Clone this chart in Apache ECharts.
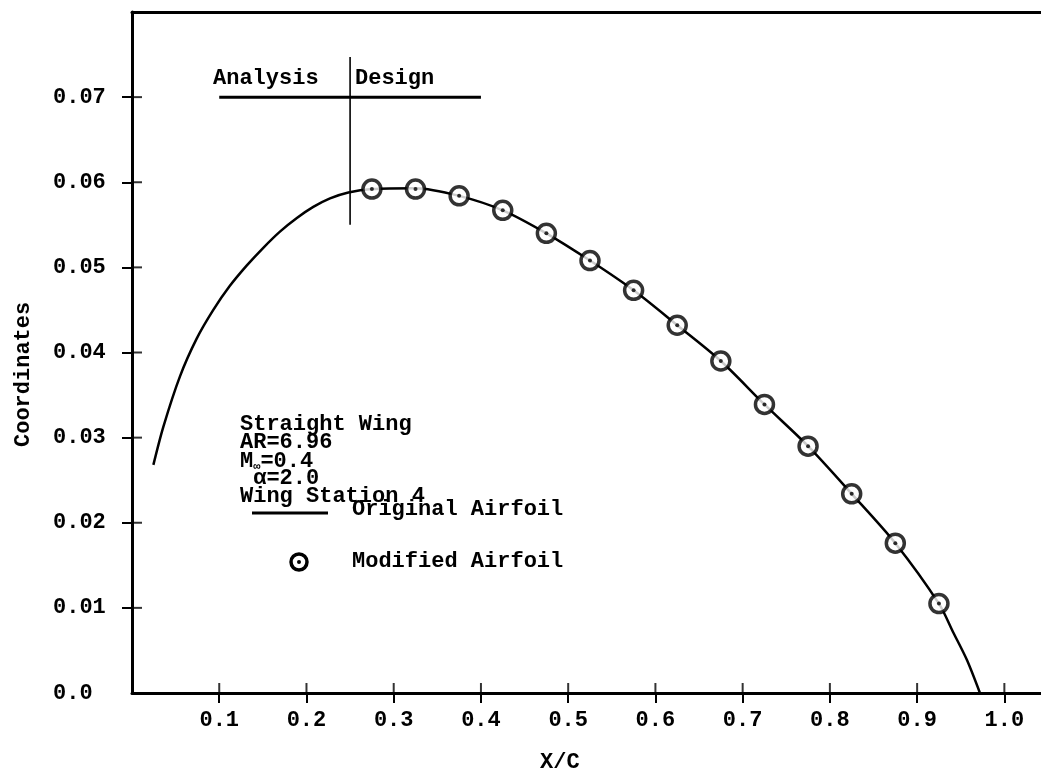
<!DOCTYPE html>
<html>
<head>
<meta charset="utf-8">
<script src="https://cdn.jsdelivr.net/npm/echarts@6/dist/echarts.min.js"></script>
<style>html,body{margin:0;padding:0;background:#fff}#c{width:1041px;height:779px}</style>
</head>
<body>
<div id="c"></div>
<script>
// Original airfoil curve (x/c, coordinate)
const curveX = [0.0245,0.036,0.055,0.074,0.0932,0.112,0.1314,0.1505,0.1696,0.189,0.2078,0.227,0.248,0.275,0.325,0.375,0.425,0.475,0.525,0.575,0.625,0.675,0.725,0.775,0.825,0.875,0.925,0.941,0.957,0.972];
const curveY = [0.0268,0.0313,0.0372,0.0416,0.0450,0.0478,0.0502,0.0523,0.0542,0.0558,0.0571,0.0581,0.0588,0.0592,0.0593,0.0584,0.0567,0.0540,0.0508,0.0473,0.0432,0.0390,0.0339,0.0290,0.0234,0.0176,0.0105,0.0072,0.0039,0.0];
// Modified airfoil points
const modX = [0.275,0.325,0.375,0.425,0.475,0.525,0.575,0.625,0.675,0.725,0.775,0.825,0.875,0.925];
const modY = [0.0592,0.0592,0.0584,0.0567,0.0540,0.0508,0.0473,0.0432,0.0390,0.0339,0.0290,0.0234,0.0176,0.0105];
// Ticks
const xTicks = [0.1,0.2,0.3,0.4,0.5,0.6,0.7,0.8,0.9,1.0];
const xTickLabels = ['0.1','0.2','0.3','0.4','0.5','0.6','0.7','0.8','0.9','1.0'];
const yTicks = [0,0.01,0.02,0.03,0.04,0.05,0.06,0.07];
const yTickLabels = ['0.0','0.01','0.02','0.03','0.04','0.05','0.06','0.07'];
// Analysis/Design annotation lines (data coords)
const underlineX = [0.1,0.4];
const underlineY = [0.07,0.07];
const dividerX = [0.25,0.25];
const dividerY = [0.0747,0.055];

const FONT = 'Liberation Mono';
const FS = 22;
const zip = (a,b) => a.map((v,i)=>[v,b[i]]);

const chart = echarts.init(document.getElementById('c'));
const X_MAX = 1.042, Y_MAX = 0.08;
const baseX = {type:'value', min:0, max:X_MAX, gridIndex:0};
const baseY = {type:'value', min:0, max:Y_MAX, gridIndex:0};

chart.setOption({
  backgroundColor:'#fff',
  animation:false,
  grid:{left:132, right:0, top:12, bottom:86},
  xAxis:[
    Object.assign({}, baseX, {
      position:'bottom',
      axisLine:{show:true, onZero:false, lineStyle:{color:'#000', width:3}},
      axisTick:{show:true, inside:false, length:10, customValues:xTicks, lineStyle:{color:'#000', width:2}},
      axisLabel:{show:true, customValues:xTicks, margin:16, color:'#000', fontFamily:FONT, fontWeight:'bold', fontSize:FS,
        formatter:(v)=>{const i=xTicks.findIndex(t=>Math.abs(t-v)<1e-9);return i>=0?xTickLabels[i]:'';}},
      splitLine:{show:false}
    }),
    Object.assign({}, baseX, {
      position:'top',
      axisLine:{show:true, onZero:false, lineStyle:{color:'#000', width:3}},
      axisTick:{show:false}, axisLabel:{show:false}, splitLine:{show:false}
    })
  ],
  yAxis:[
    Object.assign({}, baseY, {
      position:'left',
      axisLine:{show:true, onZero:false, lineStyle:{color:'#000', width:3}},
      axisTick:{show:true, inside:false, length:10, customValues:yTicks.slice(1), lineStyle:{color:'#000', width:2}},
      axisLabel:{show:true, customValues:yTicks, margin:79, align:'left', color:'#000', fontFamily:FONT, fontWeight:'bold', fontSize:FS,
        formatter:(v)=>{const i=yTicks.findIndex(t=>Math.abs(t-v)<1e-9);return i>=0?yTickLabels[i]:'';}},
      splitLine:{show:false}
    })
  ],
  series:[
    {name:'Original Airfoil', type:'line', data:zip(curveX,curveY), smooth:0.3,
      showSymbol:false, lineStyle:{color:'#000', width:2.5}, z:2},
    {name:'Modified Airfoil', type:'scatter', data:zip(modX,modY), symbol:'circle', symbolSize:18,
      itemStyle:{color:'#fff', borderColor:'#000', borderWidth:3.5}, z:3},
    {name:'dots', type:'scatter', data:zip(modX,modY), symbol:'circle', symbolSize:4,
      itemStyle:{color:'#000'}, z:4, silent:true},
    {name:'underline', type:'line', data:zip(underlineX,underlineY), showSymbol:false,
      lineStyle:{color:'#000', width:3}},
    {name:'divider', type:'line', data:zip(dividerX,dividerY), showSymbol:false,
      lineStyle:{color:'#000', width:1.6}},
    // inner halves of the crossing ticks
    {name:'xInnerTicks', type:'scatter', data:xTicks.map(v=>[v,0]), symbol:'rect', symbolSize:[2,10], symbolOffset:[0,-5],
      itemStyle:{color:'#000'}, clip:false, silent:true, z:5},
    {name:'yInnerTicks', type:'scatter', data:yTicks.slice(1).map(v=>[0,v]), symbol:'rect', symbolSize:[10,2], symbolOffset:[5,0],
      itemStyle:{color:'#000'}, clip:false, silent:true, z:5}
  ],
  graphic:[
    {type:'text', left:213, top:67, style:{text:'Analysis', font:`bold ${FS}px "${FONT}"`, fill:'#000'}},
    {type:'text', left:355, top:67, style:{text:'Design', font:`bold ${FS}px "${FONT}"`, fill:'#000'}},
    {type:'text', x:240, y:413, style:{text:'Straight Wing', font:`bold ${FS}px "${FONT}"`, fill:'#000'}},
    {type:'text', x:240, y:431, style:{text:'AR=6.96', font:`bold ${FS}px "${FONT}"`, fill:'#000'}},
    {type:'text', x:240, y:449, style:{text:'{n|M}{s|∞}{n|=0.4}', rich:{
      n:{font:`bold ${FS}px "${FONT}"`, fill:'#000'},
      s:{font:`bold 12px "${FONT}"`, fill:'#000', verticalAlign:'bottom', padding:[12,0,0,0]}}}},
    {type:'text', x:240, y:467, style:{text:' α=2.0', font:`bold ${FS}px "${FONT}"`, fill:'#000'}},
    {type:'text', x:240, y:485, style:{text:'Wing Station 4', font:`bold ${FS}px "${FONT}"`, fill:'#000'}},
    {type:'line', shape:{x1:252, y1:513, x2:328, y2:513}, style:{stroke:'#000', lineWidth:3}},
    {type:'text', x:352, y:498, style:{text:'Original Airfoil', font:`bold ${FS}px "${FONT}"`, fill:'#000'}},
    {type:'circle', shape:{cx:299, cy:562, r:8}, style:{fill:'#fff', stroke:'#000', lineWidth:3.5}},
    {type:'circle', shape:{cx:299, cy:562, r:2}, style:{fill:'#000'}},
    {type:'text', x:352, y:550, style:{text:'Modified Airfoil', font:`bold ${FS}px "${FONT}"`, fill:'#000'}},
    {type:'text', x:540, y:751, style:{text:'X/C', font:`bold ${FS}px "${FONT}"`, fill:'#000'}},
    {type:'text', x:12, y:447, rotation:Math.PI/2, style:{text:'Coordinates', font:`bold ${FS}px "${FONT}"`, fill:'#000'}}
  ]
});
</script>
</body>
</html>
